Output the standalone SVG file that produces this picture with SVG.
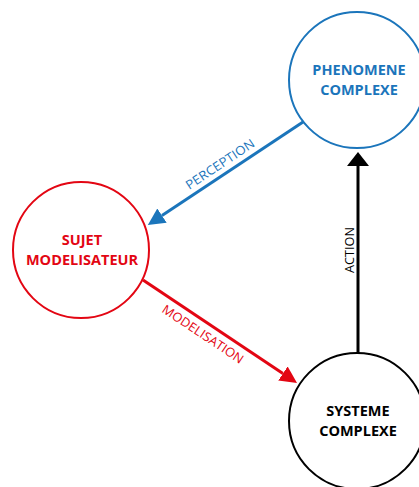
<svg xmlns="http://www.w3.org/2000/svg" width="419" height="487" viewBox="0 0 419 487">
<style>
.node{fill:#fff;stroke-width:2}
.t{font-family:"Open Sans","Liberation Sans",sans-serif;font-weight:bold;font-size:14.5px;text-anchor:middle}
.l{font-family:"Open Sans","Liberation Sans",sans-serif;font-size:12.5px;text-anchor:middle}
.c{fill:none;stroke-width:3}
</style>
<defs>
<marker id="mb" markerUnits="userSpaceOnUse" markerWidth="20" markerHeight="20" refX="0" refY="8.5" orient="auto" viewBox="0 0 20 20"><path d="M0,0 L17,8.5 L0,17 z" fill="#1b75bb"/></marker>
<marker id="mr" markerUnits="userSpaceOnUse" markerWidth="20" markerHeight="20" refX="0" refY="8.5" orient="auto" viewBox="0 0 20 20"><path d="M0,0 L17,8.5 L0,17 z" fill="#e30613"/></marker>
<marker id="mk" markerUnits="userSpaceOnUse" markerWidth="24" markerHeight="24" refX="0" refY="11" orient="auto" viewBox="0 0 24 24"><path d="M0,0 L14,11 L0,22 z" fill="#000"/></marker>
</defs>
<rect width="419" height="487" fill="#fff"/>
<g id="connectors">
<path class="c" d="M303,122 L162,215.6" stroke="#1b75bb" marker-end="url(#mb)"/>
<path class="c" d="M143,280 L282.9,373.5" stroke="#e30613" marker-end="url(#mr)"/>
<path class="c" d="M358,353 L358,166" stroke="#000" marker-end="url(#mk)"/>
<text class="l" fill="#1b75bb" transform="translate(220,164) rotate(-33.6)" y="4.5" textLength="80" lengthAdjust="spacingAndGlyphs">PERCEPTION</text>
<text class="l" fill="#e30613" transform="translate(203,334) rotate(33.7)" y="4.5" textLength="95" lengthAdjust="spacingAndGlyphs">MODELISATION</text>
<text class="l" fill="#000" transform="translate(349,250) rotate(-90)" y="4.5" textLength="46" lengthAdjust="spacingAndGlyphs">ACTION</text>
</g>
<g id="phenomene">
<circle class="node" cx="357" cy="80" r="68" stroke="#1b75bb"/>
<text class="t" fill="#1b75bb" x="359" y="75">PHENOMENE</text>
<text class="t" fill="#1b75bb" x="359" y="95">COMPLEXE</text>
</g>
<g id="sujet">
<circle class="node" cx="81" cy="250" r="68" stroke="#e30613"/>
<text class="t" fill="#e30613" x="82" y="245">SUJET</text>
<text class="t" fill="#e30613" x="82" y="265">MODELISATEUR</text>
</g>
<g id="systeme">
<circle class="node" cx="357" cy="421" r="68" stroke="#000"/>
<text class="t" fill="#000" x="358" y="416">SYSTEME</text>
<text class="t" fill="#000" x="358" y="436">COMPLEXE</text>
</g>
</svg>
